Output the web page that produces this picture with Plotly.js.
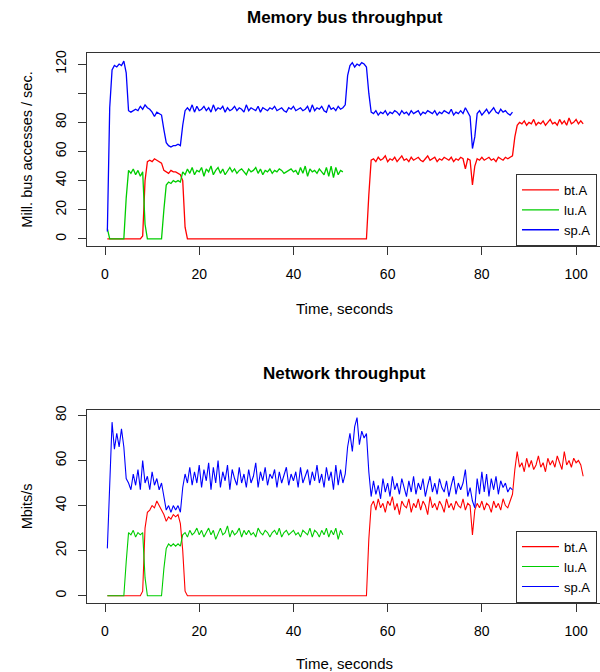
<!DOCTYPE html>
<html><head><meta charset="utf-8">
<script src="https://cdn.plot.ly/plotly-3.0.1.min.js"></script>
<style>html,body{margin:0;padding:0;overflow:hidden;background:#fff}#chart{width:610px;height:672px}</style>
</head><body><div id="chart"></div>
<script>
const seriesNames = ['bt.A', 'lu.A', 'sp.A'];
const seriesColors = ['#FF0000', '#00CD00', '#0000FF'];
const timeStart = 0.5;   // seconds, first sample
const timeStep = 0.5;    // seconds between samples

// Memory bus throughput (Mill. bus accesses / sec.)
const memBt = [
  0,0,0,0,0,0,0,0,0,0,
  0,0,0,0,0,2,40,53,54,53,
  55,54,53,52,47,46,45,47,46,46,
  45,44,40,8,0,0,0,0,0,0,
  0,0,0,0,0,0,0,0,0,0,
  0,0,0,0,0,0,0,0,0,0,
  0,0,0,0,0,0,0,0,0,0,
  0,0,0,0,0,0,0,0,0,0,
  0,0,0,0,0,0,0,0,0,0,
  0,0,0,0,0,0,0,0,0,0,
  0,0,0,0,0,0,0,0,0,0,
  0,30,54,55,53,56,54,55,57,53,
  55,54,56,53,55,57,54,55,53,56,
  54,55,56,54,53,55,57,54,55,56,
  53,55,54,56,55,54,56,53,55,54,
  56,55,48,55,54,37,50,55,54,56,
  54,55,56,54,55,53,56,55,54,56,
  55,56,57,70,78,80,79,81,78,80,
  79,82,78,80,79,81,78,80,82,79,
  80,78,82,79,81,78,83,79,80,82,
  79,81,79
];
const memLu = [
  7,0,0,0,0,0,0,0,28,47,
  45,48,44,47,43,46,10,0,0,0,
  0,0,0,0,20,37,39,38,40,39,
  40,39,46,44,48,45,49,44,47,46,
  49,43,48,46,50,44,47,49,45,48,
  44,47,49,46,48,45,47,48,46,44,
  48,46,47,49,45,48,44,47,46,48,
  45,47,46,48,47,45,46,47,48,46,
  47,44,49,45,50,43,48,46,47,45,
  48,46,44,49,43,50,42,49,44,47,
  46
];
const memSp = [
  5,90,116,119,118,120,119,122,114,88,
  87,88,89,88,91,89,92,90,89,87,
  84,87,86,85,75,66,64,63,64,64,
  65,64,78,88,90,88,92,87,91,88,
  89,91,88,90,87,92,88,90,89,91,
  87,90,88,89,91,88,90,89,87,92,
  88,90,89,88,91,87,90,89,88,90,
  89,91,88,89,90,88,87,90,89,91,
  88,89,90,88,89,91,87,92,88,90,
  89,91,88,87,92,89,90,88,91,89,
  90,92,112,119,121,118,120,119,121,120,
  118,100,87,86,88,85,87,86,88,85,
  87,86,88,87,85,88,86,87,85,88,
  86,87,88,85,87,86,88,87,86,88,
  85,87,86,88,87,86,89,85,87,86,
  88,86,90,87,84,62,70,86,88,85,
  87,89,86,88,90,87,86,89,87,88,
  86,85,87
];

// Network throughput (Mbits/s)
const netBt = [
  0,0,0,0,0,0,0,0,0,0,
  0,0,0,0,0,2,30,37,38,40,
  39,42,40,38,36,33,35,34,36,35,
  36,32,20,2,0,0,0,0,0,0,
  0,0,0,0,0,0,0,0,0,0,
  0,0,0,0,0,0,0,0,0,0,
  0,0,0,0,0,0,0,0,0,0,
  0,0,0,0,0,0,0,0,0,0,
  0,0,0,0,0,0,0,0,0,0,
  0,0,0,0,0,0,0,0,0,0,
  0,0,0,0,0,0,0,0,0,0,
  0,25,40,42,38,43,39,41,37,42,
  40,44,38,41,36,42,40,39,43,37,
  41,39,43,38,42,40,36,44,39,41,
  38,42,40,37,43,39,41,38,42,40,
  39,43,38,41,40,27,38,41,39,42,
  38,41,40,37,42,39,41,38,43,40,
  39,42,45,56,64,57,59,55,61,57,
  60,56,58,62,57,59,55,61,58,60,
  57,62,59,56,64,58,60,57,61,59,
  60,58,53
];
const netLu = [
  0,0,0,0,0,0,0,0,15,28,
  27,29,26,28,27,28,8,0,0,0,
  0,0,0,0,12,21,23,22,23,22,
  23,22,27,28,26,29,27,28,30,27,
  29,26,28,30,27,29,25,28,30,27,
  28,31,26,29,27,28,30,26,29,27,
  29,27,28,26,30,28,27,29,28,26,
  28,29,27,30,26,28,29,27,28,29,
  27,28,26,29,28,27,30,26,29,28,
  26,29,27,30,26,29,27,30,25,29,
  27
];
const netSp = [
  21,53,77,65,72,66,74,66,52,50,
  47,54,49,56,47,60,50,53,47,55,
  49,52,47,50,44,38,40,37,40,38,
  40,37,48,54,50,57,49,55,50,58,
  48,56,51,59,47,57,50,60,48,55,
  51,58,47,56,52,49,57,50,54,48,
  56,50,53,59,48,55,51,57,49,54,
  52,56,48,55,50,53,57,49,54,51,
  55,48,57,50,53,56,49,55,51,58,
  50,54,48,57,51,55,47,58,49,56,
  50,54,66,72,64,75,79,67,73,70,
  72,55,44,51,45,49,43,52,46,50,
  44,53,47,50,45,52,48,44,51,46,
  53,45,50,47,52,44,49,53,46,50,
  45,52,48,46,51,44,49,53,45,50,
  47,50,56,44,48,42,39,52,45,55,
  46,54,44,52,47,53,45,51,48,50,
  46,48,47
];

const xTickVals = [0, 20, 40, 60, 80, 100];
const memTickVals = [0, 20, 40, 60, 80, 100, 120];
const memTickText = ['0', '20', '40', '60', '80', '', '120'];
const netTickVals = [0, 20, 40, 60, 80];

const panelTitles = ['Memory bus throughput', 'Network throughput'];
const xTitle = 'Time, seconds';
const yTitles = ['Mill. bus accesses / sec.', 'Mbits/s'];

const FONT = 'Liberation Sans, Arial, Helvetica, sans-serif';
const memSeries = [memBt, memLu, memSp];
const netSeries = [netBt, netLu, netSp];

const traces = [];
memSeries.forEach((ys, i) => traces.push({
  type: 'scatter', mode: 'lines', x0: timeStart, dx: timeStep, y: ys,
  name: seriesNames[i], line: {color: seriesColors[i], width: 1.3},
  xaxis: 'x', yaxis: 'y', legend: 'legend'
}));
netSeries.forEach((ys, i) => traces.push({
  type: 'scatter', mode: 'lines', x0: timeStart, dx: timeStep, y: ys,
  name: seriesNames[i], line: {color: seriesColors[i], width: 1.1},
  xaxis: 'x2', yaxis: 'y2', legend: 'legend2'
}));

const axisCommon = {
  showline: true, mirror: true, linecolor: '#333', linewidth: 1,
  ticks: 'outside', ticklen: 8, tickcolor: '#333', tickwidth: 1,
  showgrid: false, zeroline: false, automargin: false,
  tickfont: {size: 14, color: '#000', family: FONT}
};
const xAxisExtra = {ticklabelstandoff: 7};
const yAxisExtra = {ticklabelstandoff: 6, tickangle: -90};
const H = 672;
const legendCommon = {
  xanchor: 'left', yanchor: 'bottom', x: 0.833, itemwidth: 37,
  bordercolor: '#333', borderwidth: 1, bgcolor: '#fff',
  font: {size: 13, color: '#000', family: FONT}, tracegroupgap: 0
};

const layout = {
  width: 610, height: H,
  margin: {l: 87, r: 8, t: 0, b: 0},
  paper_bgcolor: '#fff', plot_bgcolor: '#fff',
  font: {family: FONT, color: '#000'},
  xaxis: Object.assign({}, axisCommon, xAxisExtra, {
    anchor: 'y', range: [-3.82, 105.5], tickvals: xTickVals,
    title: {text: xTitle, font: {size: 15}, standoff: 22}
  }),
  yaxis: Object.assign({}, axisCommon, yAxisExtra, {
    anchor: 'x', domain: [1 - 246 / H, 1 - 53 / H], range: [-4.9, 127.6],
    tickvals: memTickVals, ticktext: memTickText,
    title: {text: yTitles[0], font: {size: 14.5}, standoff: 17}
  }),
  xaxis2: Object.assign({}, axisCommon, xAxisExtra, {
    anchor: 'y2', range: [-3.82, 105.5], tickvals: xTickVals,
    title: {text: xTitle, font: {size: 15}, standoff: 22}
  }),
  yaxis2: Object.assign({}, axisCommon, yAxisExtra, {
    anchor: 'x2', domain: [1 - 602.7 / H, 1 - 410 / H], range: [-3.1, 82.4],
    tickvals: netTickVals,
    title: {text: yTitles[1], font: {size: 14.5}, standoff: 17}
  }),
  legend: Object.assign({}, legendCommon, {y: 1 - 246 / H}),
  legend2: Object.assign({}, legendCommon, {y: 1 - 602.7 / H}),
  annotations: [
    {text: '<b>' + panelTitles[0] + '</b>', xref: 'paper', yref: 'paper',
     x: 0.5, y: 1 - 17 / H, yanchor: 'middle', showarrow: false, font: {size: 17}},
    {text: '<b>' + panelTitles[1] + '</b>', xref: 'paper', yref: 'paper',
     x: 0.5, y: 1 - 373 / H, yanchor: 'middle', showarrow: false, font: {size: 17}}
  ],
  showlegend: true
};

Plotly.newPlot('chart', traces, layout, {displayModeBar: false, staticPlot: true});
</script>
</body></html>
